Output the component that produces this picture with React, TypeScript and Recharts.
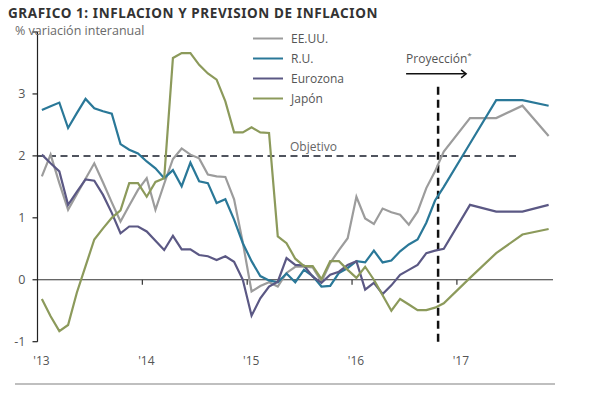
import { LineChart, Line, XAxis, YAxis, ReferenceLine } from 'recharts'

// monthly, Jan 2013 .. Nov 2016 (index = months since Jan 2013)
const usHist = [
  1.67, 2.02, 1.56, 1.13, 1.38, 1.63, 1.88, 1.57, 1.25, 0.94, 1.2, 1.45,
  1.64, 1.13, 1.55, 1.95, 2.12, 2.02, 1.96, 1.7, 1.67, 1.66, 1.3, 0.6,
  -0.19, -0.1, -0.04, -0.11, 0.11, 0.21, 0.21, 0.2, -0.03, 0.27, 0.48, 0.67,
  1.34, 0.99, 0.9, 1.15, 1.09, 1.05, 0.89, 1.1, 1.48, 1.75, 2.07,
]
const ukHist = [
  2.74, 2.8, 2.86, 2.45, 2.69, 2.92, 2.77, 2.72, 2.68, 2.19, 2.1, 2.04,
  1.91, 1.8, 1.64, 1.77, 1.51, 1.89, 1.59, 1.56, 1.24, 1.3, 0.97, 0.59,
  0.3, 0.06, -0.01, -0.04, 0.1, -0.04, 0.16, 0.06, -0.11, -0.1, 0.11, 0.19,
  0.3, 0.28, 0.47, 0.28, 0.31, 0.46, 0.57, 0.65, 0.92, 1.28, 1.5,
]
const ezHist = [
  2.02, 1.88, 1.75, 1.21, 1.42, 1.62, 1.6, 1.37, 1.08, 0.75, 0.86, 0.86,
  0.78, 0.63, 0.48, 0.71, 0.49, 0.49, 0.4, 0.38, 0.32, 0.38, 0.29, 0.0,
  -0.58, -0.3, -0.11, -0.03, 0.35, 0.24, 0.23, 0.05, -0.05, 0.08, 0.13, 0.24,
  0.3, -0.16, -0.05, -0.23, -0.09, 0.08, 0.16, 0.24, 0.43, 0.47, 0.5,
]
const jpHist = [
  -0.31, -0.59, -0.83, -0.73, -0.21, 0.22, 0.65, 0.83, 1.0, 1.12, 1.56, 1.56,
  1.34, 1.58, 1.64, 3.58, 3.66, 3.66, 3.47, 3.33, 3.23, 2.88, 2.38, 2.38,
  2.46, 2.38, 2.37, 0.7, 0.59, 0.34, 0.22, 0.22, 0.01, 0.3, 0.3, 0.16,
  0.03, 0.21, 0.0, -0.25, -0.5, -0.31, -0.4, -0.49, -0.49, -0.45, -0.38,
]

// quarterly projection points
const projMonths = [49, 52, 55, 58]
const usProj = [2.61, 2.61, 2.81, 2.32]
const ukProj = [2.2, 2.9, 2.9, 2.81]
const ezProj = [1.21, 1.1, 1.1, 1.21]
const jpProj = [0.03, 0.43, 0.73, 0.82]

const yearTicks = [0, 12, 24, 36, 48]
const yearLabels = ["'13", "'14", "'15", "'16", "'17"]
const yTicks = [-1, 0, 1, 2, 3, 4]

const TARGET = 2
const TARGET_END = 55
const PROJ_LINE_X = 45.85
const PROJ_LINE_TOP = 3.18

const SERIES = [
  { key: 'us', name: 'EE.UU.', color: '#9c9c9c', hist: usHist, proj: usProj },
  { key: 'uk', name: 'R.U.', color: '#2a7898', hist: ukHist, proj: ukProj },
  { key: 'ez', name: 'Eurozona', color: '#5b5884', hist: ezHist, proj: ezProj },
  { key: 'jp', name: 'Japón', color: '#8c9a5b', hist: jpHist, proj: jpProj },
]

const rows = Array.from({ length: 59 }, (_, m) => {
  const row: Record<string, number | null> = { x: m + 0.5 }
  for (const s of SERIES) {
    const p = projMonths.indexOf(m)
    row[s.key] = m < s.hist.length ? s.hist[m] : p >= 0 ? s.proj[p] : null
  }
  return row
})

const FONT = "'Open Sans', sans-serif"
const TEXT = '#555'

function YearTick(props: any) {
  const { x, y, payload } = props
  return (
    <text x={x + 4} y={y + 15} textAnchor="middle" fill={TEXT} fontSize={12}>
      {yearLabels[yearTicks.indexOf(payload.value)]}
    </text>
  )
}

function TargetLabel(props: any) {
  const vb = props.viewBox
  return (
    <text x={vb.x + 276} y={vb.y - 5} textAnchor="middle" fill="#666" fontSize={12}>
      Objetivo
    </text>
  )
}

function ProjLabel(props: any) {
  const vb = props.viewBox
  const ax = vb.x
  const ay = vb.y - 9
  return (
    <g>
      <text x={ax - 32} y={vb.y - 20} fill="#555" fontSize={12}>
        Proyección<tspan fontSize={8} dy={-5}>*</tspan>
      </text>
      <line x1={ax - 32} y1={ay} x2={ax + 28} y2={ay} stroke="#111" strokeWidth={1.5} />
      <polyline points={`${ax + 23},${ay - 4} ${ax + 28},${ay} ${ax + 23},${ay + 4}`} fill="none" stroke="#111" strokeWidth={1.5} />
    </g>
  )
}

export default function App() {
  return (
    <div style={{ position: 'relative', width: 577, height: 385, fontFamily: FONT }}>
      <div
        style={{
          position: 'absolute',
          left: 0,
          top: -4,
          fontFamily: "'Noto Sans', sans-serif",
          fontWeight: 700,
          fontSize: 13.5,
          lineHeight: '18px',
          letterSpacing: 0.6,
          color: '#333',
          whiteSpace: 'nowrap',
        }}
      >
        GRÁFICO 1: INFLACIÓN Y PREVISIÓN DE INFLACIÓN
      </div>
      <LineChart width={577} height={385} data={rows} margin={{ top: 24, right: 32, bottom: 21.3, left: 0 }}>
        <XAxis
          dataKey="x"
          type="number"
          domain={[0, 59]}
          ticks={yearTicks}
          interval={0}
          axisLine={false}
          tickLine={false}
          tickSize={6}
          tickMargin={2}
          height={30}
          tick={<YearTick />}
        />
        <YAxis
          domain={[-1, 4]}
          ticks={yTicks}
          interval={0}
          width={29.5}
          tickSize={5}
          tickMargin={7}
          axisLine={{ stroke: '#222', strokeWidth: 1.2 }}
          tickLine={{ stroke: '#222', strokeWidth: 1.2 }}
          tick={{ fill: TEXT, fontSize: 12.5 }}
          tickFormatter={(v: number) => (v === 4 ? '' : String(v))}
        />
        <ReferenceLine y={0} stroke="#333" strokeWidth={1.2} />
        {yearTicks.slice(1).map((t) => (
          <ReferenceLine key={t} segment={[{ x: t, y: 0 }, { x: t, y: -0.08 }]} stroke="#333" strokeWidth={1.2} />
        ))}
        <ReferenceLine
          segment={[{ x: 0, y: TARGET }, { x: TARGET_END, y: TARGET }]}
          stroke="#50545e"
          strokeWidth={2}
          strokeDasharray="7 4.5"
          label={TargetLabel}
        />
        <ReferenceLine
          segment={[{ x: PROJ_LINE_X, y: -1 }, { x: PROJ_LINE_X, y: PROJ_LINE_TOP }]}
          stroke="#111"
          strokeWidth={2.5}
          strokeDasharray="8 5"
          label={ProjLabel}
        />
        {SERIES.map((s) => (
          <Line
            key={s.key}
            type="linear"
            dataKey={s.key}
            name={s.name}
            stroke={s.color}
            strokeWidth={2.2}
            dot={false}
            connectNulls
            isAnimationActive={false}
          />
        ))}
      </LineChart>
      <svg width={577} height={385} style={{ position: 'absolute', left: 0, top: 0, pointerEvents: 'none' }}>
        <text x={7} y={27} fontSize={12.5} fill="#6a6a6a">% variación interanual</text>
        {SERIES.map((s, i) => (
          <g key={s.key}>
            <line x1={245} x2={275} y1={30.5 + i * 20} y2={30.5 + i * 20} stroke={s.color} strokeWidth={2} />
            <text x={283} y={35 + i * 20} fontSize={12} fill={TEXT}>{s.name}</text>
          </g>
        ))}
        <line x1={7} x2={547} y1={376} y2={376} stroke="#aaa" strokeWidth={1.5} />
      </svg>
    </div>
  )
}
